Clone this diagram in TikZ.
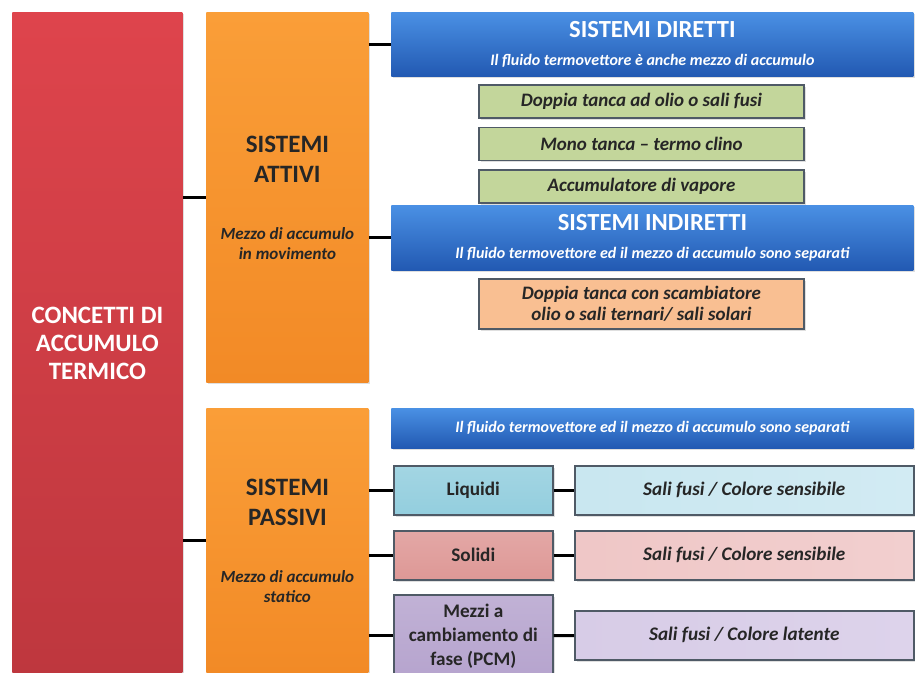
\documentclass[tikz,border=0pt]{standalone}
\usepackage{fontspec}
\setmainfont{Carlito}
\usetikzlibrary{positioning,shadows}
\definecolor{rossoA}{HTML}{DE444C}
\definecolor{rossoB}{HTML}{BE373E}
\definecolor{aranA}{HTML}{FA9E38}
\definecolor{aranB}{HTML}{F28A26}
\definecolor{bluA}{HTML}{4A90E4}
\definecolor{bluB}{HTML}{2259B2}
\definecolor{verde}{HTML}{C3D69B}
\definecolor{pesca}{HTML}{F9BF92}
\definecolor{liqA}{HTML}{93CEDE}
\definecolor{liqL}{HTML}{D2EBF3}
\definecolor{solA}{HTML}{DE9896}
\definecolor{solL}{HTML}{F2CFCF}
\definecolor{pcmA}{HTML}{B6A4CE}
\definecolor{pcmL}{HTML}{DDD3EB}
\definecolor{bordo}{HTML}{4F5A66}
\newcommand\nota{\fontsize{8.5}{10}\selectfont\itshape}
\newcommand\sottotitolo{\fontsize{8}{9}\selectfont\itshape}

\begin{document}
\begin{tikzpicture}[x=0.5pt,y=-0.5pt,node distance=4pt,
   box/.style={rectangle,anchor=north west,inner sep=2pt,align=center,
      drop shadow={opacity=0.25,shadow xshift=1pt,shadow yshift=-1pt}},
   root/.style={box,top color=rossoA,bottom color=rossoB,text=white,
      font=\bfseries\fontsize{12.5}{14}\selectfont,
      minimum width=85pt,minimum height=330.5pt},
   group/.style={box,top color=aranA,bottom color=aranB,text=black!85,
      font=\bfseries\fontsize{12.5}{15}\selectfont,minimum width=81pt},
   header/.style={box,top color=bluA,bottom color=bluB,text=white,
      font=\bfseries\fontsize{12.3}{13}\selectfont,minimum width=261pt},
   item/.style={rectangle,draw=bordo,line width=0.8pt,inner sep=2pt,align=center,
      text=black!85,font=\bfseries\itshape\fontsize{9.5}{10.5}\selectfont,
      minimum width=162.5pt,
      drop shadow={opacity=0.25,shadow xshift=1pt,shadow yshift=-1pt}},
   kind/.style={box,draw=bordo,line width=0.8pt,text=black!85,
      font=\bfseries\fontsize{9.6}{12}\selectfont,minimum width=79.5pt},
   prop/.style={box,draw=bordo,line width=0.8pt,text=black!85,
      font=\bfseries\itshape\fontsize{9.6}{11}\selectfont,
      minimum width=169.5pt,minimum height=24.5pt},
   link/.style={line width=1.5pt,black}]
   \useasboundingbox (0,0) rectangle (915,673);

   % colonna principale
   \node [root] (C_0) at (12,12) {CONCETTI DI\\ACCUMULO\\TERMICO};

   % sistemi attivi / passivi
   \node [group,minimum height=185pt] (S_A) at (206,12)
      {SISTEMI\\ATTIVI\\[13.5pt]\nota Mezzo di accumulo\\[-5pt]\nota in movimento};
   \node [group,minimum height=132.5pt] (S_P) at (206,408)
      {SISTEMI\\PASSIVI\\[13.5pt]\nota Mezzo di accumulo\\[-5pt]\nota statico};

   % sistemi diretti
   \node [header,minimum height=32pt] (S_D) at (391,12)
      {SISTEMI DIRETTI\\[1pt]\sottotitolo Il fluido termovettore è anche mezzo di accumulo};
   \node [item,fill=verde,minimum height=16.5pt,anchor=north] (D_1) at (641.5,84)
      {Doppia tanca ad olio o sali fusi};
   \node [item,fill=verde,minimum height=16.5pt] (D_2) [below=of D_1]
      {Mono tanca -- termo clino};
   \node [item,fill=verde,minimum height=16.5pt] (D_3) [below=of D_2]
      {Accumulatore di vapore};

   % sistemi indiretti
   \node [header,minimum height=32.5pt] (S_I) at (391,205)
      {SISTEMI INDIRETTI\\[1pt]\sottotitolo Il fluido termovettore ed il mezzo di accumulo sono separati};
   \node [item,fill=pesca,minimum height=25pt,anchor=north] (I_1) at (641.5,278)
      {Doppia tanca con scambiatore\\olio o sali ternari/ sali solari};

   % sistemi passivi
   \node [header,minimum height=20pt] (S_Q) at (391,408)
      {\sottotitolo Il fluido termovettore ed il mezzo di accumulo sono separati};
   \node [kind,top color=liqA!85!white,bottom color=liqA,minimum height=24.5pt] (P_1) at (393,465) {Liquidi};
   \node [kind,top color=solA!85!white,bottom color=solA,minimum height=24.5pt] (P_2) at (393,530) {Solidi};
   \node [kind,top color=pcmA!85!white,bottom color=pcmA,minimum height=41pt] (P_3) at (393,594)
      {Mezzi a\\cambiamento di\\fase (PCM)};
   \node [prop,left color=liqL!85!liqA,right color=liqL] (Q_1) at (574,465) {Sali fusi / Colore sensibile};
   \node [prop,left color=solL!85!solA,right color=solL] (Q_2) at (574,530) {Sali fusi / Colore sensibile};
   \node [prop,left color=pcmL!85!pcmA,right color=pcmL] (Q_3) at (574,610) {Sali fusi / Colore latente};

   \path[link]
   (S_A.west -| C_0.east) edge (S_A.west)
   (S_P.west -| C_0.east) edge (S_P.west)
   (S_D.west -| S_A.east) edge (S_D.west)
   (S_I.west -| S_A.east) edge (S_I.west)
   (P_1.west -| S_P.east) edge (P_1.west)
   (P_2.west -| S_P.east) edge (P_2.west)
   (P_3.west -| S_P.east) edge (P_3.west)
   (P_1) edge (Q_1)
   (P_2) edge (Q_2)
   (P_3) edge (Q_3);
\end{tikzpicture}
\end{document}
